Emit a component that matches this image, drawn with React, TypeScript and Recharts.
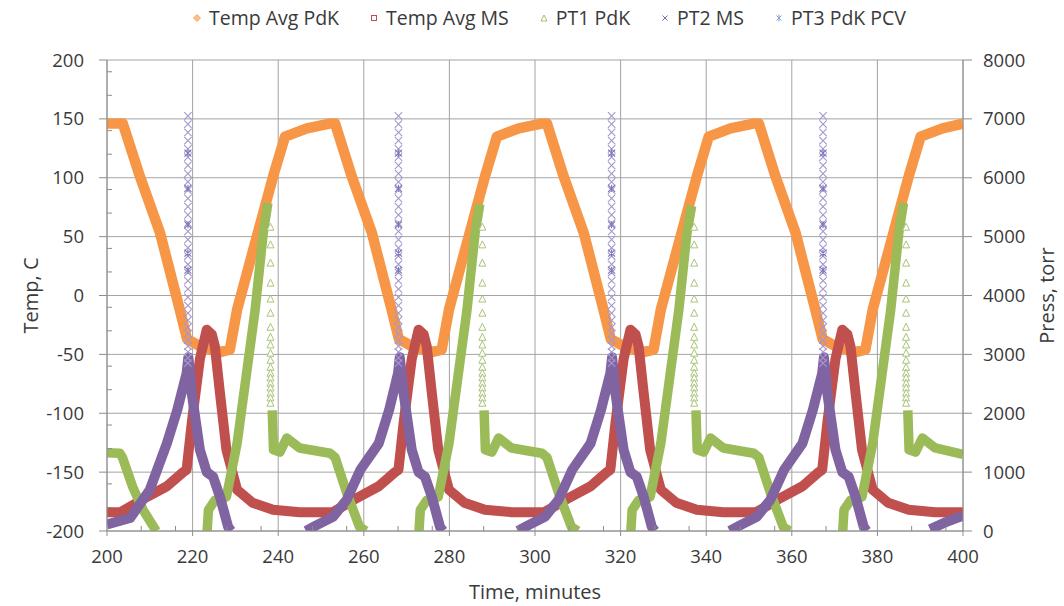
import React from "react";
import { ComposedChart, Line, XAxis, YAxis, CartesianGrid, Label } from "recharts";

const FONT = "'Open Sans', sans-serif";
const TEXT = "#3a3a3a";
const AXIS = "#8c8c8c";

const TIME_TICKS = [200, 220, 240, 260, 280, 300, 320, 340, 360, 380, 400];
const TEMP_TICKS = [-200, -150, -100, -50, 0, 50, 100, 150, 200];
const PRESS_TICKS = [0, 1000, 2000, 3000, 4000, 5000, 6000, 7000, 8000];
const TIME_MINOR = Array.from({ length: 51 }, (_, i) => 200 + i * 4).filter((v) => v % 20 !== 0);
const TEMP_MINOR = Array.from({ length: 41 }, (_, i) => -200 + i * 10).filter((v) => v % 50 !== 0);

// [time, temp C]
const TEMP_AVG_PDK: [number, number | null][] = [
  [200, 146], [203.7, 146], [207.7, 101], [212.4, 53], [217, -12], [218.7, -37], [221.7, -43], [226.4, -48], [228.7, -46],
  [230.4, -12], [235, 50], [238.8, 101], [241.6, 135], [246.7, 142], [252, 146], [253.3, 146],
  [257.2, 101], [261.9, 53], [266.5, -12], [268.2, -37], [271.2, -43], [275.9, -48], [278.2, -46],
  [279.9, -12], [284.5, 50], [288.3, 101], [291.1, 135], [296.2, 142], [301.5, 146], [302.8, 146],
  [306.7, 101], [311.4, 53], [316, -12], [317.7, -37], [320.7, -43], [325.4, -48], [327.7, -46],
  [329.4, -12], [334, 50], [337.8, 101], [340.6, 135], [345.7, 142], [351, 146], [352.3, 146],
  [356.2, 101], [360.9, 53], [365.5, -12], [367.2, -37], [370.2, -43], [374.9, -48], [377.2, -46],
  [378.9, -12], [383.5, 50], [387.3, 101], [390.1, 135], [395.2, 142], [400, 146],
];

const TEMP_AVG_MS: [number, number | null][] = [
  [200, -184], [203.2, -184], [208.4, -173], [214, -162], [217.8, -150], [218.6, -148], [219.8, -108], [221.7, -54],
  [223.3, -29], [224.5, -33], [225.2, -43], [226.4, -83], [227.9, -131], [230.4, -165], [234, -176], [238.8, -182], [245, -184],
  [252.8, -184], [257.9, -173], [263.5, -162], [267.3, -150], [268.1, -148], [269.3, -108], [271.2, -54],
  [272.8, -29], [274, -33], [274.7, -43], [275.9, -83], [277.4, -131], [279.9, -165], [283.5, -176], [288.3, -182], [294.5, -184],
  [302.2, -184], [307.4, -173], [313, -162], [316.8, -150], [317.6, -148], [318.8, -108], [320.7, -54],
  [322.3, -29], [323.5, -33], [324.2, -43], [325.4, -83], [326.9, -131], [329.4, -165], [333, -176], [337.8, -182], [344, -184],
  [351.7, -184], [356.9, -173], [362.5, -162], [366.3, -150], [367.1, -148], [368.3, -108], [370.2, -54],
  [371.8, -29], [373, -33], [373.7, -43], [374.9, -83], [376.4, -131], [378.9, -165], [382.5, -176], [387.3, -182], [393.5, -184], [400, -184],
];

// [time, torr]
const PT1_PDK: [number, number | null][] = [
  [200, 1330], [203, 1320], [203.6, 1250], [206, 750], [208.4, 360], [211.5, 0], [217, null],
  [223.4, 0], [223.7, 360], [225.2, 520], [227.9, 580], [230.4, 1490], [232.7, 2730], [234.6, 3750], [236.5, 5060], [237.6, 5570], [238.1, null],
  [238.6, 2050], [238.9, 1380], [240.4, 1340], [242, 1580], [245, 1410], [252.1, 1320], [253.3, 1250], [256, 650], [259, 70], [260.5, 0], [266, null],
  [272.9, 0], [273.2, 360], [274.7, 520], [277.4, 580], [279.9, 1490], [282.2, 2730], [284.1, 3750], [286, 5060], [287.1, 5550], [287.6, null],
  [288.1, 2050], [288.4, 1380], [289.9, 1340], [291.5, 1580], [294.5, 1410], [301.6, 1320], [302.8, 1250], [305.5, 650], [308.5, 70], [310, 0], [316, null],
  [322.4, 0], [322.7, 360], [324.2, 520], [326.9, 580], [329.4, 1490], [331.7, 2730], [333.6, 3750], [335.5, 5060], [336.6, 5520], [337.1, null],
  [337.6, 2050], [337.9, 1380], [339.4, 1340], [341, 1580], [344, 1410], [351.1, 1320], [352.3, 1250], [355, 650], [358, 70], [359.5, 0], [365, null],
  [371.9, 0], [372.2, 360], [373.7, 520], [376.4, 580], [378.9, 1490], [381.2, 2730], [383.1, 3750], [385, 5060], [386.1, 5570], [386.6, null],
  [387.1, 2050], [387.4, 1380], [388.9, 1340], [390.5, 1580], [393.5, 1410], [400, 1300],
];

const PT2_MS: [number, number | null][] = [
  [200, 110], [205.4, 220], [210, 700], [214, 1490], [216.4, 2050], [218.6, 2680], [219, 2950], [219.4, 2700], [219.8, 2340],
  [221.7, 1380], [223.3, 1000], [224.8, 920], [226.4, 580], [228.3, 70], [229, 0], [238, null],
  [246.5, 0], [249, 100], [252.8, 240], [256, 530], [259.2, 1040], [263.5, 1490], [265.9, 2050], [268, 2680], [268.4, 2950], [268.8, 2700], [269.3, 2340],
  [271.2, 1380], [272.8, 1000], [274.3, 920], [275.9, 580], [277.8, 70], [278.5, 0], [287, null],
  [296, 0], [298.5, 100], [302.3, 240], [305.5, 530], [308.7, 1040], [313, 1490], [315.4, 2050], [317.6, 2680], [318, 2950], [318.4, 2700], [318.8, 2340],
  [320.7, 1380], [322.3, 1000], [323.8, 920], [325.4, 580], [327.3, 70], [328, 0], [337, null],
  [345.5, 0], [348, 100], [351.8, 240], [355, 530], [358.2, 1040], [362.5, 1490], [364.9, 2050], [367.1, 2680], [367.5, 2950], [367.9, 2700], [368.3, 2340],
  [370.2, 1380], [371.8, 1000], [373.3, 920], [374.9, 580], [376.8, 70], [377.5, 0], [385, null],
  [392.3, 30], [396, 150], [400, 260],
];

// sparse markers where the readings jump (spikes and fast drops)
const SPIKE_TIMES = [218.9, 268.1, 317.9, 367.3];
const PT2_SPIKE = [
  7050, 6910, 6770, 6630, 6490, 6350, 6210, 6070, 5930, 5790, 5650, 5510, 5370, 5230, 5090, 4950, 4810,
  4670, 4530, 4390, 4250, 4110, 3970, 3830, 3700, 3580, 3460, 3350, 3240, 3140, 3040, 2940, 2850,
];
const PT3_SPIKE = [6420, 5820, 5200, 4720, 4430];
const DROP_TIMES = [238.2, 287.7, 337.2, 386.7];
const PT1_DROP = [5160, 4860, 4550, 4210, 3940, 3700, 3460, 3290, 3160, 3020, 2900, 2780, 2680, 2600, 2510, 2430, 2340, 2260, 2170];

const COLORS = {
  pdk: "#F79646",
  ms: "#C0504D",
  pt1: "#9BBB59",
  pt2: "#8064A2",
  pt2Light: "#A597CC",
  pt3: "#7A78B8",
};

const LEGEND = [
  { name: "Temp Avg PdK", color: COLORS.pdk, shape: "diamond" },
  { name: "Temp Avg MS", color: COLORS.ms, shape: "square" },
  { name: "PT1 PdK", color: COLORS.pt1, shape: "triangle" },
  { name: "PT2 MS", color: COLORS.pt2, shape: "x" },
  { name: "PT3 PdK PCV", color: "#7FA3D6", shape: "star" },
];

const rows = (pairs: [number, number | null][]) => pairs.map(([t, v]) => ({ t, v }));
const markerRows = (times: number[], values: number[]) =>
  times.flatMap((t) => values.map((v) => ({ t, v })));

const xDot = (color: string, r: number, star = false) => (props: any) => {
  const { cx, cy, index } = props;
  if (cx == null || cy == null || props.value == null) return <g key={`x-${index}`} />;
  const d = `M${cx - r},${cy - r}L${cx + r},${cy + r}M${cx - r},${cy + r}L${cx + r},${cy - r}` +
    (star ? `M${cx},${cy - r}L${cx},${cy + r}` : "");
  return <path key={`x-${index}`} d={d} stroke={color} strokeWidth={1.1} fill="none" />;
};

const triDot = (color: string) => (props: any) => {
  const { cx, cy, index } = props;
  if (cx == null || cy == null || props.value == null) return <g key={`t-${index}`} />;
  return (
    <path key={`t-${index}`} d={`M${cx},${cy - 4}L${cx + 3.5},${cy + 3}L${cx - 3.5},${cy + 3}Z`}
      stroke={color} strokeWidth={1} fill="#fff" />
  );
};

const noLabel = () => <g />;

function LegendIcon({ shape, color }: { shape: string; color: string }) {
  let el: React.ReactNode = null;
  if (shape === "diamond") el = <path d="M5,1.5L8.5,5L5,8.5L1.5,5Z" fill="#F9C08F" stroke={color} strokeWidth={0.8} />;
  if (shape === "square") el = <rect x={2.5} y={2.5} width={5} height={5} fill="#fff" stroke={color} strokeWidth={1} />;
  if (shape === "triangle") el = <path d="M5,2L8,8L2,8Z" fill="#fff" stroke={color} strokeWidth={0.9} />;
  if (shape === "x") el = <path d="M2.5,2.5L7.5,7.5M2.5,7.5L7.5,2.5" stroke={color} strokeWidth={1} />;
  if (shape === "star") el = <path d="M2.5,2.5L7.5,7.5M2.5,7.5L7.5,2.5M5,1.5L5,8.5" stroke={color} strokeWidth={1} />;
  return <svg width={10} height={10} style={{ marginRight: 7 }}>{el}</svg>;
}

function ChartLegend() {
  return (
    <div style={{ position: "absolute", left: 192, top: 4, display: "flex", alignItems: "center", gap: 30, fontSize: 19.5, color: TEXT, fontFamily: FONT, whiteSpace: "nowrap" }}>
      {LEGEND.map((l) => (
        <div key={l.name} style={{ display: "flex", alignItems: "center" }}>
          <LegendIcon shape={l.shape} color={l.color} />
          <span>{l.name}</span>
        </div>
      ))}
    </div>
  );
}

export default function App() {
  const tickStyle = { fill: TEXT, fontSize: 18.5, fontFamily: FONT };
  const titleStyle = { fill: TEXT, fontSize: 20, fontFamily: FONT };
  return (
    <div style={{ position: "absolute", left: 0, top: 0, width: 1064, height: 606, background: "#fff" }}>
      <ChartLegend />
      <ComposedChart width={1064} height={606} margin={{ top: 60, right: 0, bottom: 0, left: 0 }} style={{ fontFamily: FONT }}>
        <CartesianGrid xAxisId="t" yAxisId="temp" stroke="#a3a3a3" />
        <XAxis xAxisId="minorX" type="number" dataKey="t" domain={[200, 400]} ticks={TIME_MINOR} orientation="bottom"
          mirror tick={noLabel} axisLine={false} tickLine={{ stroke: AXIS }} tickSize={5} height={10} allowDataOverflow />
        <YAxis yAxisId="minorY" type="number" domain={[-200, 200]} ticks={TEMP_MINOR} orientation="left"
          mirror tick={noLabel} axisLine={false} tickLine={{ stroke: AXIS }} tickSize={5} width={10} allowDataOverflow />
        <XAxis xAxisId="t" type="number" dataKey="t" domain={[200, 400]} ticks={TIME_TICKS} height={75}
          tick={tickStyle} tickSize={5} tickMargin={14} axisLine={{ stroke: AXIS }} tickLine={{ stroke: AXIS }} allowDataOverflow>
          <Label value="Time, minutes" position="center" dy={23} style={titleStyle} />
        </XAxis>
        <YAxis yAxisId="temp" type="number" domain={[-200, 200]} ticks={TEMP_TICKS} width={107}
          tick={tickStyle} tickSize={8} tickMargin={15} axisLine={{ stroke: AXIS }} tickLine={{ stroke: AXIS }} allowDataOverflow>
          <Label value="Temp, C" angle={-90} position="center" dx={-23} style={titleStyle} />
        </YAxis>
        <YAxis yAxisId="press" orientation="right" type="number" domain={[0, 8000]} ticks={PRESS_TICKS} width={101}
          tick={tickStyle} tickSize={9} tickMargin={11} axisLine={{ stroke: AXIS }} tickLine={{ stroke: AXIS }} allowDataOverflow>
          <Label value="Press, torr" angle={-90} position="center" dx={33} style={titleStyle} />
        </YAxis>

        <Line xAxisId="t" yAxisId="temp" data={rows(TEMP_AVG_PDK)} dataKey="v" name="Temp Avg PdK" type="linear"
          stroke={COLORS.pdk} strokeWidth={10.5} strokeLinejoin="round" dot={false} activeDot={false} isAnimationActive={false} />
        <Line xAxisId="t" yAxisId="temp" data={rows(TEMP_AVG_MS)} dataKey="v" name="Temp Avg MS" type="linear"
          stroke={COLORS.ms} strokeWidth={10} strokeLinejoin="round" dot={false} activeDot={false} isAnimationActive={false} />
        <Line xAxisId="t" yAxisId="press" data={rows(PT1_PDK)} dataKey="v" name="PT1 PdK" type="linear"
          stroke={COLORS.pt1} strokeWidth={9.5} strokeLinejoin="round" dot={false} activeDot={false} isAnimationActive={false} />
        <Line xAxisId="t" yAxisId="press" data={markerRows(DROP_TIMES, PT1_DROP)} dataKey="v" name="PT1 PdK drop"
          stroke="none" dot={triDot("#A9C47A")} activeDot={false} isAnimationActive={false} legendType="none" />
        <Line xAxisId="t" yAxisId="press" data={rows(PT2_MS)} dataKey="v" name="PT2 MS" type="linear"
          stroke={COLORS.pt2} strokeWidth={10} strokeLinejoin="round" dot={false} activeDot={false} isAnimationActive={false} />
        <Line xAxisId="t" yAxisId="press" data={markerRows(SPIKE_TIMES, PT2_SPIKE)} dataKey="v" name="PT2 MS spike"
          stroke="none" dot={xDot(COLORS.pt2Light, 3.7)} activeDot={false} isAnimationActive={false} legendType="none" />
        <Line xAxisId="t" yAxisId="press" data={markerRows(SPIKE_TIMES, PT3_SPIKE)} dataKey="v" name="PT3 PdK PCV"
          stroke="none" dot={xDot(COLORS.pt3, 3.5, true)} activeDot={false} isAnimationActive={false} legendType="none" />
      </ComposedChart>
    </div>
  );
}
